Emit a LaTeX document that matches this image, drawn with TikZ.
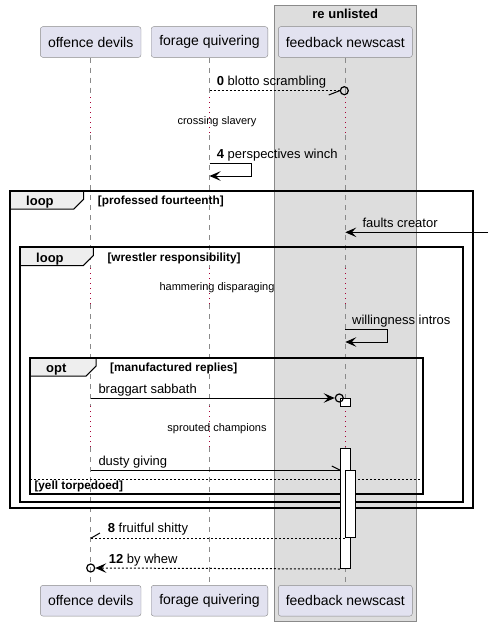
\documentclass[tikz,border=0pt]{standalone}
\usepackage{fontspec}
\setmainfont{Liberation Sans}
\usetikzlibrary{arrows.meta, positioning, calc}
\definecolor{partfill}{HTML}{E2E2F0}
\definecolor{partline}{HTML}{8A8A8A}
\definecolor{boxfill}{HTML}{DDDDDD}
\definecolor{delayred}{HTML}{A80036}
\definecolor{tabfill}{HTML}{EEEEEE}

\begin{document}
\begin{tikzpicture}[x=1pt, y=-1pt,
  every node/.style={inner sep=0pt, font=\fontsize{13}{15}\selectfont},
  part/.style={draw=partline, fill=partfill, rounded corners=2.5pt, minimum height=30.7pt, font=\fontsize{14}{16}\selectfont},
  lbl/.style={anchor=base west},
  delaytext/.style={anchor=base, font=\fontsize{11}{13}\selectfont},
  condtext/.style={anchor=base west, font=\fontsize{11.8}{13}\selectfont\bfseries},
  kwtext/.style={anchor=base west, font=\fontsize{13}{15}\selectfont\bfseries},
  life/.style={draw=partline, line width=1pt, dash pattern=on 5pt off 5pt},
  delay/.style={draw=delayred, line width=1pt, dash pattern=on 1pt off 4pt},
  frame/.style={draw=black, line width=1.8pt},
  tab/.style={draw=black, fill=tabfill, line width=1pt},
  act/.style={draw, fill=white, line width=1pt, minimum width=10pt, anchor=north},
  circ/.style={draw, circle, line width=1.2pt, minimum size=8pt},
  msg/.style={line width=1pt},
  ret/.style={line width=1pt, dash pattern=on 2pt off 2pt},
  arr/.style={msg, -{Stealth[length=11pt, width=9.5pt, inset=4.5pt]}},
  retarr/.style={ret, -{Stealth[length=11pt, width=9.5pt, inset=4.5pt]}}
]
  \useasboundingbox (0,0) rectangle (488,626);
  % box round the third participant
  \draw[draw=partline, fill=boxfill, line width=1pt] (274.3,6) rectangle (416.3,621.7);
  \node[anchor=base, font=\fontsize{13}{15}\selectfont\bfseries] (BoxTitle) at (345.3,18.3) {re unlisted};

  \node[part, minimum width=100.6pt] (Od) at (90.7,42) {offence devils};
  \node[part, minimum width=116.6pt] (Fq) at (209.5,42) {forage quivering};
  \node[part, minimum width=134pt] (Fn) at (345.3,42) {feedback newscast};
  \node[part, minimum width=100.6pt] (OdB) at (90.7,600.7) {offence devils};
  \node[part, minimum width=116.6pt] (FqB) at (209.5,600.7) {forage quivering};
  \node[part, minimum width=134pt] (FnB) at (345.3,600.7) {feedback newscast};

  % lifelines, dotted where a delay cuts them
  \foreach \p in {Od, Fq, Fn} {
    \draw[life] (\p.south) -- (\p |- 0,97);
    \draw[delay] (\p |- 0,97) -- (\p |- 0,135);
    \draw[life] (\p |- 0,135) -- (\p |- 0,268);
    \draw[delay] (\p |- 0,268) -- (\p |- 0,304);
    \draw[life] (\p |- 0,304) -- (\p |- 0,406);
    \draw[delay] (\p |- 0,406) -- (\p |- 0,447);
    \draw[life] (\p |- 0,447) -- (\p B.north);
  }
  \node[delaytext] (D1) at (217,124) {crossing slavery};
  \node[delaytext] (D2) at (217,290) {hammering disparaging};
  \node[delaytext] (D3) at (217,431.3) {sprouted champions};

  % group frames
  \foreach \l/\t/\r/\b/\tw/\kw/\cond [count=\i] in {10/190.7/472.7/507.7/73.7/loop/{professed fourteenth},
      20/247/463.3/501.7/73.3/loop/{wrestler responsibility}, 30/357.7/422.7/494/66/opt/{manufactured replies}} {
    \draw[tab] (\l,\t) -- (\l+\tw,\t) -- (\l+\tw,\t+8.5) -- (\l+\tw-10,\t+18.5) -- (\l,\t+18.5) -- cycle;
    \draw[frame] (\l,\t) rectangle (\r,\b);
    \node[kwtext] (Kw\i) at (\l+16,\t+15) {\kw};
    \node[condtext] (Cond\i) at (\l+\tw+14,\t+14) {[\cond]};
  }
  \draw[line width=1pt, dash pattern=on 2pt off 2pt] (30,479.3) -- (422.7,479.3);
  \node[condtext] (Else) at (34.3,489.5) {[yell torpedoed]};

  % activations
  \node[act, minimum height=8.4pt] (Bar1) at (345.3,398) {};
  \node[act, minimum height=119.7pt] (Bar2) at (345.3,448.3) {};
  \node[act, minimum height=67.3pt] (Bar3) at (350.3,470) {};

  % messages
  \node[circ] (C0) at (344.3,90.7) {};
  \draw[ret] (Fq |- C0) -- (C0.west);
  \draw[msg] (C0.west) -- ++(-11,4.3);
  \node[lbl] (L0) at (216.7,85.7) {\textbf{0} blotto scrambling};

  \draw[arr] (Fq |- 0,163.3) -- ++(42.2,0) |- (Fq |- 0,176);
  \node[lbl] (L4) at (216.7,158.3) {\textbf{4} perspectives winch};

  \coordinate (RightEdge) at (488,232.3);
  \draw[arr] (RightEdge) -- (Fn |- RightEdge);
  \node[lbl] (L5) at (362.3,227.3) {faults creator};

  \draw[arr] (Fn |- 0,329.3) -- ++(42.4,0) |- (Fn |- 0,342);
  \node[lbl] (L6) at (352,324.3) {willingness intros};

  \node[circ] (C7) at (339.3,398) {};
  \draw[arr] (Od |- C7) -- (C7.west);
  \node[lbl] (L7) at (98.3,393) {braggart sabbath};

  \draw[msg] (Od |- Bar3.north) -- (Bar2.west |- Bar3.north);
  \draw[msg] (Bar2.west |- Bar3.north) -- ++(-8,-4);
  \node[lbl] (L8) at (98.3,465) {dusty giving};

  \draw[ret] (Bar3.south west) -- (Od |- Bar3.south west);
  \draw[msg] (Od |- Bar3.south west) -- ++(9.3,-5.3);
  \node[lbl] (L9) at (107.7,532.3) {\textbf{8} fruitful shitty};

  \node[circ] (C12) at (90.7,568) {};
  \draw[retarr] (Bar2.south west) -- (C12.east);
  \node[lbl] (L12) at (108.7,563) {\textbf{12} by whew};
\end{tikzpicture}
\end{document}
